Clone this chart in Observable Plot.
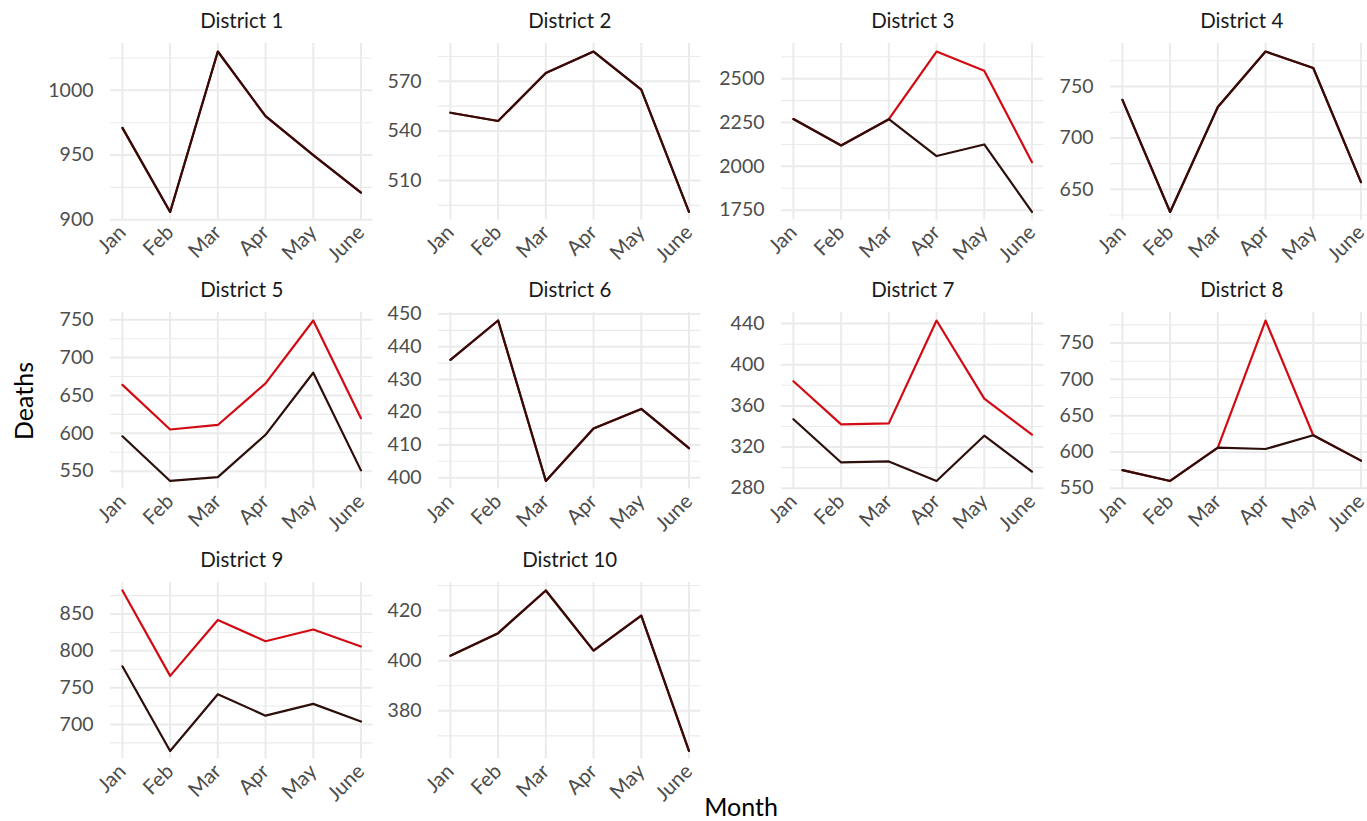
<!DOCTYPE html>
<html>
<head>
<meta charset="utf-8">
<script src="https://cdn.jsdelivr.net/npm/d3@7"></script>
<script src="https://cdn.jsdelivr.net/npm/@observablehq/plot@0.6"></script>
<style>
  html, body { margin: 0; padding: 0; background: #ffffff; overflow: hidden; }
  #chart { position: relative; width: 1367px; height: 821px; overflow: hidden; font-family: Lato, sans-serif; }
  #chart svg { position: absolute; overflow: visible; }
  .axis-title { position: absolute; color: #000000; font-family: Lato, sans-serif; font-size: 25px; line-height: 26px; white-space: nowrap; }
</style>
</head>
<body>
<div id="chart"></div>
<script>
// ---------- data ----------
const months = ["Jan", "Feb", "Mar", "Apr", "May", "June"];
const monthNumbers = [1, 2, 3, 4, 5, 6];
const districts = ["District 1", "District 2", "District 3", "District 4", "District 5",
                   "District 6", "District 7", "District 8", "District 9", "District 10"];
// dark series
const recorded = [
  [971, 906, 1030, 980, 950, 921],
  [551, 546, 575, 588, 565, 491],
  [2270, 2119, 2269, 2059, 2125, 1740],
  [737, 628, 730, 784, 768, 657],
  [596, 537, 542, 598, 680, 551],
  [436, 448, 399, 415, 421, 409],
  [347, 305, 306, 287, 331, 296],
  [575, 560, 606, 604, 623, 588],
  [779, 664, 741, 712, 728, 704],
  [402, 411, 428, 404, 418, 364]
];
// red series
const estimated = [
  [971, 906, 1030, 980, 950, 921],
  [551, 546, 575, 588, 565, 491],
  [2270, 2119, 2269, 2655, 2545, 2024],
  [737, 628, 730, 784, 768, 657],
  [664, 605, 611, 666, 749, 620],
  [436, 448, 399, 415, 421, 409],
  [384, 342, 343, 443, 367, 332],
  [575, 560, 606, 781, 623, 588],
  [882, 766, 842, 813, 829, 806],
  [402, 411, 428, 404, 418, 364]
];
const yTicks = [
  [900, 950, 1000],
  [510, 540, 570],
  [1750, 2000, 2250, 2500],
  [650, 700, 750],
  [550, 600, 650, 700, 750],
  [400, 410, 420, 430, 440, 450],
  [280, 320, 360, 400, 440],
  [550, 600, 650, 700, 750],
  [700, 750, 800, 850],
  [380, 400, 420]
];
const yTitle = "Deaths";
const xTitle = "Month";

// ---------- layout ----------
const PANEL_W = 262.4, PANEL_H = 176.5;
const colLeft = [110, 438.3, 781, 1109.5];
const rowTop = [42.5, 312.2, 582.2];
const M = {left: 75, right: 10, top: 45, bottom: 65};
const RED = "#d20a12", DARK = "#2c0e0a", GRID = "#ebebeb";
const FONT = "Lato, sans-serif";

const chart = document.getElementById("chart");

districts.forEach((name, i) => {
  const row = Math.floor(i / 4), col = i % 4;
  const rows = [];
  monthNumbers.forEach((m, j) => rows.push({month: m, deaths: estimated[i][j], series: "estimated"}));
  monthNumbers.forEach((m, j) => rows.push({month: m, deaths: recorded[i][j], series: "recorded"}));
  const all = recorded[i].concat(estimated[i]);
  const lo = d3.min(all), hi = d3.max(all), pad = (hi - lo) * 0.05;
  const ticks = yTicks[i];
  const step = ticks[1] - ticks[0];
  const minor = [];
  for (let v = ticks[0] - step / 2; v <= hi + pad; v += step) if (v >= lo - pad) minor.push(v);

  const plot = Plot.plot({
    width: M.left + PANEL_W + M.right,
    height: M.top + PANEL_H + M.bottom,
    marginLeft: M.left, marginRight: M.right, marginTop: M.top, marginBottom: M.bottom,
    x: {type: "linear", domain: [1 - 0.25, 6 + 0.25]},
    y: {domain: [lo - pad, hi + pad]},
    style: {fontFamily: FONT, color: "#4d4d4d", background: "transparent", overflow: "visible"},
    marks: [
      Plot.gridY(minor, {stroke: GRID, strokeOpacity: 1, strokeWidth: 1.1}),
      Plot.gridY(ticks, {stroke: GRID, strokeOpacity: 1, strokeWidth: 2}),
      Plot.gridX(monthNumbers, {stroke: GRID, strokeOpacity: 1, strokeWidth: 2}),
      Plot.axisY(ticks, {label: null, tickSize: 0, tickPadding: 17, fontSize: 19.5, fill: "#4d4d4d",
        tickFormat: d => String(d)}),
      Plot.axisX(monthNumbers, {label: null, tickSize: 0, tickPadding: 9, tickRotate: -45, fontSize: 20.5, fill: "#4d4d4d",
        tickFormat: d => months[d - 1]}),
      Plot.line(rows.filter(d => d.series === "estimated"), {x: "month", y: "deaths", stroke: RED, strokeWidth: 2.2}),
      Plot.line(rows.filter(d => d.series === "recorded"), {x: "month", y: "deaths", stroke: DARK, strokeWidth: 2.2}),
      Plot.text([name], {frameAnchor: "top", dy: -30, fontSize: 20.5, fontWeight: 400, fill: "#1a1a1a", fontFamily: FONT})
    ]
  });
  plot.style.left = (colLeft[col] - M.left) + "px";
  plot.style.top = (rowTop[row] - M.top) + "px";
  chart.appendChild(plot);
});

const yt = document.createElement("div");
yt.className = "axis-title";
yt.textContent = yTitle;
yt.style.left = "23px";
yt.style.top = "401px";
yt.style.transform = "translate(-50%, -50%) rotate(-90deg)";
chart.appendChild(yt);

const xt = document.createElement("div");
xt.className = "axis-title";
xt.textContent = xTitle;
xt.style.left = "741px";
xt.style.top = "806px";
xt.style.transform = "translate(-50%, -50%)";
chart.appendChild(xt);
</script>
</body>
</html>
